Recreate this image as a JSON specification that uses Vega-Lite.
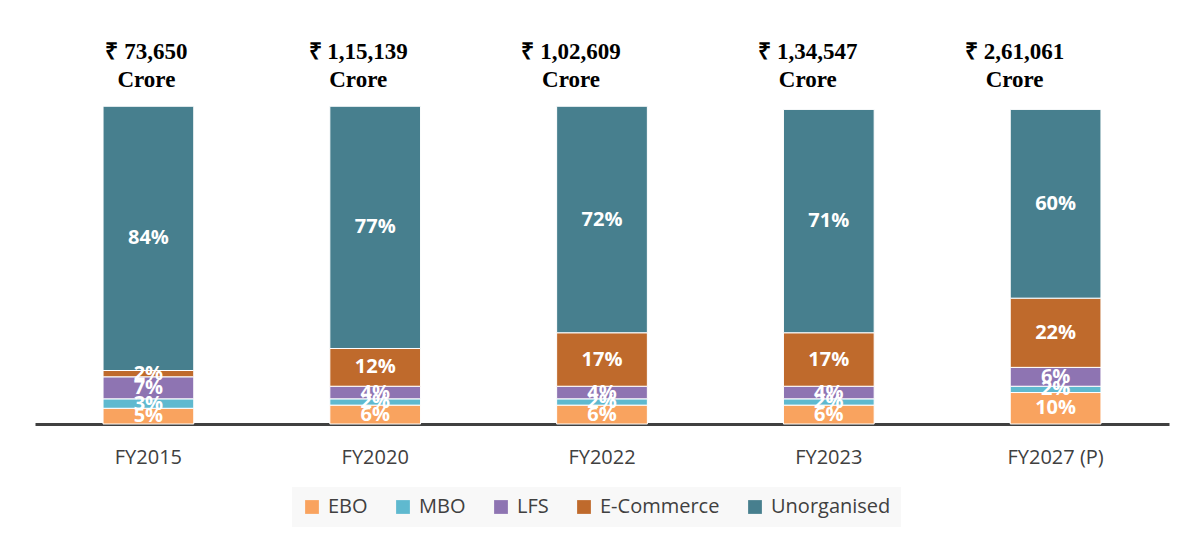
{
  "$schema": "https://vega.github.io/schema/vega-lite/v6.json",
  "width": 1134,
  "height": 409,
  "autosize": {"type": "none"},
  "padding": {"left": 35, "top": 15, "right": 18, "bottom": 120},
  "background": "white",
  "config": {"view": {"stroke": null}, "font": "Open Sans"},
  "datasets": {
    "shares": [
      {"year": "FY2015", "channel": "EBO", "share": 0.05, "rank": 1},
      {"year": "FY2015", "channel": "MBO", "share": 0.03, "rank": 2},
      {"year": "FY2015", "channel": "LFS", "share": 0.07, "rank": 3},
      {"year": "FY2015", "channel": "E-Commerce", "share": 0.02, "rank": 4},
      {"year": "FY2015", "channel": "Unorganised", "share": 0.84, "rank": 5},
      {"year": "FY2020", "channel": "EBO", "share": 0.06, "rank": 1},
      {"year": "FY2020", "channel": "MBO", "share": 0.02, "rank": 2},
      {"year": "FY2020", "channel": "LFS", "share": 0.04, "rank": 3},
      {"year": "FY2020", "channel": "E-Commerce", "share": 0.12, "rank": 4},
      {"year": "FY2020", "channel": "Unorganised", "share": 0.77, "rank": 5},
      {"year": "FY2022", "channel": "EBO", "share": 0.06, "rank": 1},
      {"year": "FY2022", "channel": "MBO", "share": 0.02, "rank": 2},
      {"year": "FY2022", "channel": "LFS", "share": 0.04, "rank": 3},
      {"year": "FY2022", "channel": "E-Commerce", "share": 0.17, "rank": 4},
      {"year": "FY2022", "channel": "Unorganised", "share": 0.72, "rank": 5},
      {"year": "FY2023", "channel": "EBO", "share": 0.06, "rank": 1},
      {"year": "FY2023", "channel": "MBO", "share": 0.02, "rank": 2},
      {"year": "FY2023", "channel": "LFS", "share": 0.04, "rank": 3},
      {"year": "FY2023", "channel": "E-Commerce", "share": 0.17, "rank": 4},
      {"year": "FY2023", "channel": "Unorganised", "share": 0.71, "rank": 5},
      {"year": "FY2027 (P)", "channel": "EBO", "share": 0.10, "rank": 1},
      {"year": "FY2027 (P)", "channel": "MBO", "share": 0.02, "rank": 2},
      {"year": "FY2027 (P)", "channel": "LFS", "share": 0.06, "rank": 3},
      {"year": "FY2027 (P)", "channel": "E-Commerce", "share": 0.22, "rank": 4},
      {"year": "FY2027 (P)", "channel": "Unorganised", "share": 0.60, "rank": 5}
    ],
    "totals": [
      {"year": "FY2015", "label": "₹ 73,650\nCrore"},
      {"year": "FY2020", "label": "₹ 1,15,139\nCrore"},
      {"year": "FY2022", "label": "₹ 1,02,609\nCrore"},
      {"year": "FY2023", "label": "₹ 1,34,547\nCrore"},
      {"year": "FY2027 (P)", "label": "₹ 2,61,061\nCrore"}
    ]
  },
  "encoding": {
    "x": {
      "field": "year",
      "type": "nominal",
      "sort": ["FY2015", "FY2020", "FY2022", "FY2023", "FY2027 (P)"],
      "scale": {"domain": ["FY2015", "FY2020", "FY2022", "FY2023", "FY2027 (P)"], "paddingInner": 0.6, "paddingOuter": 0.3},
      "axis": {
        "title": null,
        "labelAngle": 0,
        "ticks": false,
        "domainColor": "#404040",
        "domainWidth": 3,
        "labelFontSize": 20,
        "labelColor": "#404040",
        "labelPadding": 23,
        "labelFont": "Open Sans"
      }
    }
  },
  "layer": [
    {
      "data": {"name": "shares"},
      "mark": {"type": "bar", "stroke": "white", "strokeWidth": 1},
      "encoding": {
        "y": {"field": "share", "type": "quantitative", "stack": "zero", "scale": {"domain": [0, 1.3]}, "axis": null},
        "order": {"field": "rank", "type": "quantitative"},
        "color": {
          "field": "channel",
          "type": "nominal",
          "scale": {
            "domain": ["EBO", "MBO", "LFS", "E-Commerce", "Unorganised"],
            "range": ["#F9A35F", "#5FB9CF", "#8E74B2", "#BF6A2C", "#477F8E"]
          },
          "legend": {
            "title": null,
            "orient": "none",
            "direction": "horizontal",
            "legendX": 257,
            "legendY": 472,
            "fillColor": "#F8F8F8",
            "padding": 10,
            "symbolType": "square",
            "symbolSize": 190,
            "symbolStrokeWidth": 0,
            "labelFontSize": 20,
            "labelColor": "#404040",
            "labelFont": "Open Sans",
            "columnPadding": 25,
            "labelOffset": 6
          }
        }
      }
    },
    {
      "data": {"name": "shares"},
      "mark": {"type": "text", "color": "white", "fontWeight": "bold", "fontSize": 20, "font": "Open Sans", "baseline": "middle"},
      "encoding": {
        "y": {"field": "share", "type": "quantitative", "stack": "zero", "bandPosition": 0.5},
        "order": {"field": "rank", "type": "quantitative"},
        "detail": {"field": "channel"},
        "text": {"field": "share", "type": "quantitative", "format": ".0%"}
      }
    },
    {
      "data": {"name": "totals"},
      "transform": [{"filter": "datum.year === 'FY2015'"}],
      "mark": {"type": "text", "color": "black", "fontWeight": "bold", "fontSize": 23, "font": "Liberation Serif", "baseline": "middle", "lineBreak": "\n", "lineHeight": 28, "dx": -2},
      "encoding": {"y": {"datum": 1.182, "type": "quantitative"}, "text": {"field": "label"}}
    },
    {
      "data": {"name": "totals"},
      "transform": [{"filter": "datum.year === 'FY2020'"}],
      "mark": {"type": "text", "color": "black", "fontWeight": "bold", "fontSize": 23, "font": "Liberation Serif", "baseline": "middle", "lineBreak": "\n", "lineHeight": 28, "dx": -17},
      "encoding": {"y": {"datum": 1.182, "type": "quantitative"}, "text": {"field": "label"}}
    },
    {
      "data": {"name": "totals"},
      "transform": [{"filter": "datum.year === 'FY2022'"}],
      "mark": {"type": "text", "color": "black", "fontWeight": "bold", "fontSize": 23, "font": "Liberation Serif", "baseline": "middle", "lineBreak": "\n", "lineHeight": 28, "dx": -31},
      "encoding": {"y": {"datum": 1.182, "type": "quantitative"}, "text": {"field": "label"}}
    },
    {
      "data": {"name": "totals"},
      "transform": [{"filter": "datum.year === 'FY2023'"}],
      "mark": {"type": "text", "color": "black", "fontWeight": "bold", "fontSize": 23, "font": "Liberation Serif", "baseline": "middle", "lineBreak": "\n", "lineHeight": 28, "dx": -21},
      "encoding": {"y": {"datum": 1.182, "type": "quantitative"}, "text": {"field": "label"}}
    },
    {
      "data": {"name": "totals"},
      "transform": [{"filter": "datum.year === 'FY2027 (P)'"}],
      "mark": {"type": "text", "color": "black", "fontWeight": "bold", "fontSize": 23, "font": "Liberation Serif", "baseline": "middle", "lineBreak": "\n", "lineHeight": 28, "dx": -41},
      "encoding": {"y": {"datum": 1.182, "type": "quantitative"}, "text": {"field": "label"}}
    }
  ]
}
